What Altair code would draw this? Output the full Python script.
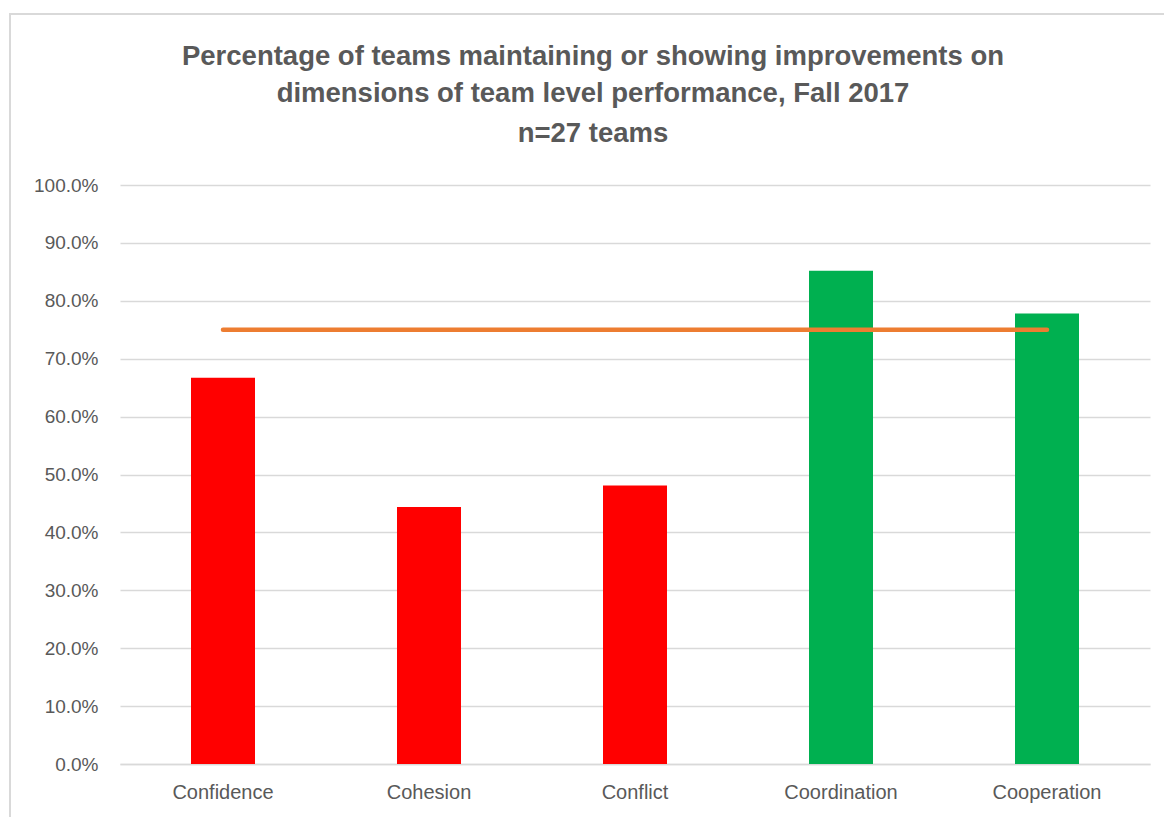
import altair as alt
import pandas as pd

categories = ["Confidence", "Cohesion", "Conflict", "Coordination", "Cooperation"]
values = [0.667, 0.444, 0.481, 0.852, 0.778]
target = 0.75
title_lines = [
    "Percentage of teams maintaining or showing improvements on",
    "dimensions of team level performance, Fall 2017",
    "n=27 teams",
]

df = pd.DataFrame({
    "category": categories,
    "value": values,
    "status": ["meets" if v >= target else "below" for v in values],
    "target": [target] * len(categories),
})

GREY = "#595959"
GRID = "#d9d9d9"

x_enc = alt.X(
    "category:N",
    sort=categories,
    scale=alt.Scale(paddingInner=0, paddingOuter=0),
    axis=alt.Axis(
        title=None, labelAngle=0, ticks=False, domainColor=GRID, domainWidth=1.5,
        labelFont="Liberation Sans", labelFontSize=20, labelColor=GREY,
        labelPadding=18, grid=False,
    ),
)

bars = alt.Chart(df).mark_bar(size=64).encode(
    x=x_enc,
    y=alt.Y(
        "value:Q",
        scale=alt.Scale(domain=[0, 1], nice=False),
        axis=alt.Axis(
            title=None, values=[i / 10 for i in range(11)], format=".1%",
            domain=False, ticks=False, gridColor=GRID, gridWidth=1.5,
            labelFont="Liberation Sans", labelFontSize=19, labelColor=GREY,
            labelPadding=22,
        ),
    ),
    color=alt.Color(
        "status:N",
        scale=alt.Scale(domain=["below", "meets"], range=["#FF0000", "#00B050"]),
        legend=None,
    ),
)

line = alt.Chart(df).mark_line(
    color="#ED7D31", strokeWidth=4.5, strokeCap="round"
).encode(
    x=alt.X("category:N", sort=categories),
    y=alt.Y("target:Q"),
)

border = alt.Chart(pd.DataFrame({"a": [0]})).mark_rect(
    fill=None, stroke=GRID, strokeWidth=2
).encode(
    x=alt.value(-110), y=alt.value(-171), x2=alt.value(1060), y2=alt.value(650)
)

title_y = [-120, -83, -43]
title_layers = [
    alt.Chart(pd.DataFrame({"t": [txt]})).mark_text(
        font="Liberation Sans", fontSize=27.5, fontWeight="bold", color=GREY,
        align="center", baseline="alphabetic",
    ).encode(text="t:N", x=alt.value(473), y=alt.value(yy))
    for txt, yy in zip(title_lines, title_y)
]

chart = alt.layer(border, bars, line, *title_layers).properties(
    width=1030,
    height=579,
    autosize=alt.AutoSizeParams(type="none"),
    padding={"left": 120, "top": 185, "right": 14, "bottom": 53},
).configure(
    background="white",
    view=alt.ViewConfig(strokeWidth=0),
)

chart.save("out.html", embed_options={"renderer": "svg", "actions": False})
